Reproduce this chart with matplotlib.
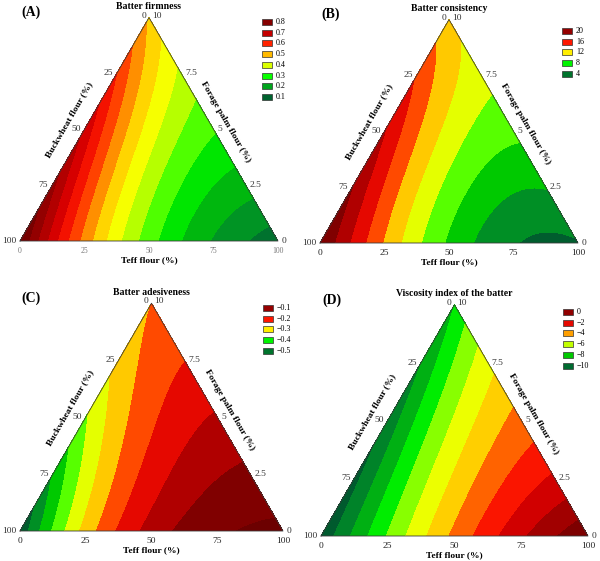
import numpy as np
import matplotlib
matplotlib.use("Agg")
import matplotlib.pyplot as plt
import matplotlib.tri as mtri
from matplotlib.colors import LinearSegmentedColormap, Normalize
from matplotlib.patches import Rectangle

plt.rcParams['font.family'] = ['Liberation Serif', 'DejaVu Serif']

# mixture design points: (buckwheat, teff, forage palm) as pseudo-component fractions
design_pts = np.array([
    [1, 0, 0], [0, 1, 0], [0, 0, 1],
    [2/3, 1/3, 0], [1/3, 2/3, 0],
    [2/3, 0, 1/3], [1/3, 0, 2/3],
    [0, 2/3, 1/3], [0, 1/3, 2/3],
    [1/3, 1/3, 1/3]])

firmness = [0.85, 0.12, 0.49, 0.45, 0.23, 0.74, 0.63, 0.25, 0.36, 0.39]
consistency = [22.0, 3.8, 12.6, 11.5, 5.0, 19.4, 16.6, 6.9, 10.0, 10.0]
adhesiveness = [-0.54, -0.04, -0.25, -0.22, -0.076, -0.415, -0.305, -0.107, -0.183, -0.19]
viscosity = [-10.8, 0.9, -8.0, -5.8, -2.0, -10.2, -9.3, -2.5, -4.75, -5.2]

titles = ["Batter firmness", "Batter consistency", "Batter adesiveness", "Viscosity index of the batter"]
tags = ["(A)", "(B)", "(C)", "(D)"]
legend_a = [0.8, 0.7, 0.6, 0.5, 0.4, 0.3, 0.2, 0.1]
legend_b = [20, 16, 12, 8, 4]
legend_c = [-0.1, -0.2, -0.3, -0.4, -0.5]
legend_d = [0, -2, -4, -6, -8, -10]
bottom_ticks = ["0", "25", "50", "75", "100"]
left_ticks = ["100", "75", "50", "25"]
right_ticks = ["0", "2.5", "5", "7.5"]

SQ3 = np.sqrt(3) / 2

cmap = LinearSegmentedColormap.from_list("stat", [
    (0.00, "#004a2c"), (0.08, "#006a30"), (0.18, "#00a020"), (0.25, "#00c800"),
    (0.31, "#00ff00"), (0.36, "#70ff00"), (0.42, "#c8ff00"), (0.48, "#ffff00"),
    (0.56, "#ffc000"), (0.63, "#ff6000"), (0.70, "#ff1800"), (0.78, "#d80000"),
    (0.88, "#a00000"), (1.00, "#6c0000")])


def terms(a, t, p):
    return np.stack([a, t, p, a*t, a*p, t*p, a*t*(a-t), a*p*(a-p), t*p*(t-p), a*t*p], axis=-1)


def fit(values):
    X = terms(design_pts[:, 0], design_pts[:, 1], design_pts[:, 2])
    return np.linalg.solve(X, np.array(values, dtype=float))


# panel geometry in pixels: bottom-left corner and base width
panels = [
    dict(bl=(20, 241), w=258, vals=firmness, levels=np.arange(0.0, 0.951, 0.05), rng=(0.05, 0.85),
         leg=legend_a, legxy=(262, 22), legfmt="{:.1f}"),
    dict(bl=(320, 243), w=258, vals=consistency, levels=np.arange(0, 26.1, 2), rng=(2, 22),
         leg=legend_b, legxy=(562, 31), legfmt="{:d}"),
    dict(bl=(20, 531), w=263, vals=adhesiveness, levels=np.arange(-0.65, 0.01, 0.05), rng=(-0.55, -0.05),
         leg=legend_c, legxy=(263, 308), legfmt="{:.1f}"),
    dict(bl=(321, 536), w=267, vals=viscosity, levels=np.arange(-12, 2.1, 1), rng=(-11, 1),
         leg=legend_d, legxy=(563, 312), legfmt="{:d}"),
]

fig = plt.figure(figsize=(6.0, 5.61), dpi=100)
ax = fig.add_axes([0, 0, 1, 1])
ax.set_xlim(0, 600)
ax.set_ylim(561, 0)
ax.axis('off')

n = 160
ii, jj = np.meshgrid(np.arange(n + 1), np.arange(n + 1))
mask = ii + jj <= n
tt = ii[mask] / n
pp = jj[mask] / n
aa = 1 - tt - pp

for k, pn in enumerate(panels):
    x0, y0 = pn['bl']
    w = pn['w']
    h = w * SQ3
    coef = fit(pn['vals'])
    z = terms(aa, tt, pp) @ coef
    px = x0 + w * (tt + pp / 2)
    py = y0 - h * pp
    tri = mtri.Triangulation(px, py)
    norm = Normalize(*pn['rng'])
    # drawn twice to hide hairline seams between bands
    ax.tricontourf(tri, z, levels=pn['levels'], cmap=cmap, norm=norm)
    ax.tricontourf(tri, z, levels=pn['levels'], cmap=cmap, norm=norm)
    ax.plot([x0, x0 + w, x0 + w / 2, x0], [y0, y0, y0 - h, y0], color="#3a3a3a", lw=0.6)

    cx, top = x0 + w / 2, y0 - h
    ax.text(cx, top - 11, titles[k], ha='center', va='center', fontsize=7, fontweight='bold')
    ax.text(x0 + 1, top - 5, tags[k], ha='left', va='center', fontsize=10, fontweight='bold')

    # bottom axis (teff)
    tcol = "#777777" if k == 0 else "#222222"
    tfs = 5.5 if k == 0 else 6.8
    for i, lab in enumerate(bottom_ticks):
        ax.text(x0 + w * i / 4, y0 + 10, lab, ha='center', va='center', fontsize=tfs, color=tcol)
    ax.text(cx, y0 + 19, "Teff flour (%)", ha='center', va='center', fontsize=6.8, fontweight='bold')

    # left axis (buckwheat)
    for i, lab in enumerate(left_ticks):
        f = i / 4
        ax.text(x0 + w * f / 2 - 4, y0 - h * f, lab, ha='right', va='center', fontsize=6.8, color="#333333")
    mx, my = x0 + w / 4, y0 - h / 2
    ax.text(mx - 0.866 * 18, my - 0.5 * 18, "Buckwheat flour (%)", ha='center', va='center',
            rotation=60, fontsize=6.8, fontweight='bold', rotation_mode='anchor')

    # right axis (forage palm)
    for i, lab in enumerate(right_ticks):
        f = i / 4
        ax.text(x0 + w - w * f / 2 + 4, y0 - h * f, lab, ha='left', va='center', fontsize=6.8, color="#333333")
    ax.text(cx - 3, top - 2, "0", ha='right', va='center', fontsize=6.8, color="#333333")
    ax.text(cx + 3, top - 2, "10", ha='left', va='center', fontsize=6.8, color="#333333")
    mx, my = x0 + 3 * w / 4, y0 - h / 2
    ax.text(mx + 0.866 * 14, my - 0.5 * 14, "Forage palm flour (%)", ha='center', va='center',
            rotation=-60, fontsize=6.8, fontweight='bold', rotation_mode='anchor')

    # legend
    lx, ly = pn['legxy']
    for i, lv in enumerate(pn['leg']):
        yy = ly + i * 10.7
        ax.add_patch(Rectangle((lx, yy - 3), 10, 6, facecolor=cmap(norm(lv)), edgecolor="#333333", lw=0.5))
        lab = pn['legfmt'].format(lv).replace("-", "\u2212")
        ax.text(lx + 14, yy, lab, ha='left', va='center', fontsize=5.8)

fig.savefig("out.png", dpi=100)
